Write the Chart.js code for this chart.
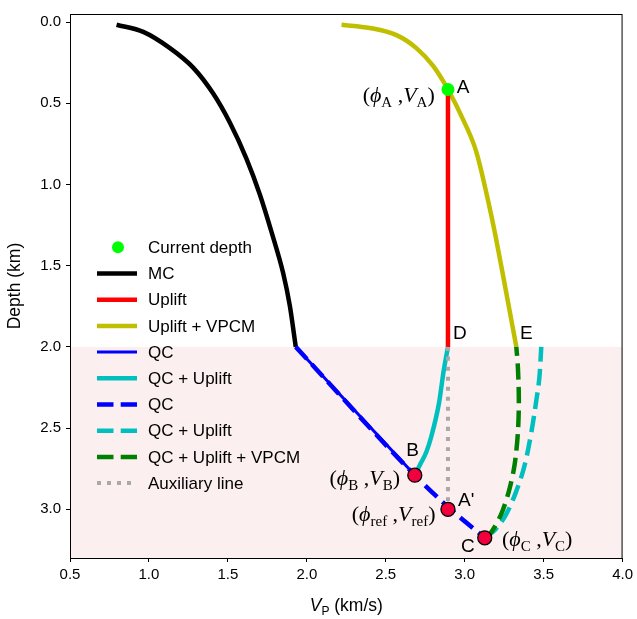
<!DOCTYPE html>
<html>
<head>
<meta charset="utf-8">
<script src="https://cdn.jsdelivr.net/npm/chart.js@4"></script>
<style>
  body { margin: 0; background: #fff; }
  canvas { display: block; }
</style>
</head>
<body>
<canvas id="vpChart" width="637" height="619"></canvas>
<script>
// axis ticks
const xTicks = [0.5, 1.0, 1.5, 2.0, 2.5, 3.0, 3.5, 4.0];
const depthTicks = [0.0, 0.5, 1.0, 1.5, 2.0, 2.5, 3.0];

// curves: velocity (km/s) vs depth (km)
const mcV     = [0.795, 0.964, 1.133, 1.28, 1.407, 1.513, 1.618, 1.703, 1.78, 1.85, 1.892, 1.93];
const mcDepth = [0.016, 0.06, 0.16, 0.28, 0.44, 0.62, 0.842, 1.063, 1.304, 1.545, 1.745, 2.0];

const upliftV     = [2.894, 2.894];
const upliftDepth = [0.415, 2.0];

const vpcmV     = [2.22, 2.399, 2.568, 2.694, 2.80, 2.894, 2.99, 3.074, 3.158, 3.20, 3.24, 3.327];
const vpcmDepth = [0.016, 0.036, 0.08, 0.16, 0.27, 0.415, 0.60, 0.80, 1.143, 1.34, 1.545, 2.0];

const qcV     = [1.93, 2.684];
const qcDepth = [2.0, 2.79];

const qcUpV     = [2.684, 2.72, 2.757, 2.789, 2.837, 2.867, 2.894];
const qcUpDepth = [2.79, 2.72, 2.647, 2.55, 2.347, 2.146, 2.0];

const qcDashV     = [1.93, 2.684, 2.894, 3.127];
const qcDashDepth = [2.0, 2.79, 2.985, 3.176];

const qcUpDashV     = [3.127, 3.19, 3.264, 3.327, 3.38, 3.422, 3.454, 3.475, 3.485];
const qcUpDashDepth = [3.176, 3.129, 3.028, 2.888, 2.727, 2.527, 2.327, 2.166, 2.0];

const qcVpcmV     = [3.127, 3.17, 3.232, 3.28, 3.316, 3.337, 3.343, 3.337, 3.327];
const qcVpcmDepth = [3.176, 3.139, 3.028, 2.888, 2.727, 2.527, 2.327, 2.126, 2.0];

const auxV     = [2.894, 2.894];
const auxDepth = [2.0, 3.0];

const currentV = [2.894];
const currentDepth = [0.415];

const keyV     = [2.684, 2.894, 3.127];   // B, A', C
const keyDepth = [2.79, 3.0, 3.176];

const shadeFrom = 2.0;

// annotations
const letterText  = ['A', 'D', 'E', 'B', "A'", 'C'];
const letterV     = [2.99, 2.97, 3.39, 2.67, 3.01, 3.02];
const letterDepth = [0.403, 1.92, 1.92, 2.64, 2.95, 3.23];

const mathSub   = ['A', 'B', 'ref', 'C'];
const mathV     = [2.582, 2.367, 2.55, 3.459];
const mathDepth = [0.451, 2.81, 3.03, 3.18];

const pts = (xs, ys) => xs.map((x, i) => ({ x: x, y: ys[i] }));

function lineSet(label, xs, ys, color, width, dash, order) {
  return {
    label: label,
    data: pts(xs, ys),
    showLine: true,
    borderColor: color,
    backgroundColor: color,
    borderWidth: width,
    borderDash: dash,
    borderCapStyle: 'butt',
    borderJoinStyle: 'round',
    pointRadius: 0,
    cubicInterpolationMode: 'monotone',
    order: order
  };
}

const datasets = [
  { label: 'Current depth', data: pts(currentV, currentDepth), pointRadius: 6.5,
    pointBackgroundColor: '#00ff00', pointBorderWidth: 0, backgroundColor: '#00ff00', order: 0 },
  lineSet('MC', mcV, mcDepth, '#000000', 4.5, [], 6),
  lineSet('Uplift', upliftV, upliftDepth, '#ff0000', 4.5, [], 5),
  lineSet('Uplift + VPCM', vpcmV, vpcmDepth, '#bfbf00', 4.5, [], 6),
  lineSet('QC', qcV, qcDepth, '#0000ff', 3, [], 4),
  lineSet('QC + Uplift', qcUpV, qcUpDepth, '#00bfbf', 4.5, [], 4),
  lineSet('QC', qcDashV, qcDashDepth, '#0000ff', 4.5, [16.5, 7.2], 3),
  lineSet('QC + Uplift', qcUpDashV, qcUpDashDepth, '#00bfbf', 4.5, [16.5, 7.2], 3),
  lineSet('QC + Uplift + VPCM', qcVpcmV, qcVpcmDepth, '#008000', 4.5, [16.5, 7.2], 2),
  lineSet('Auxiliary line', auxV, auxDepth, '#a9a9a9', 4, [4, 6], 3),
  { label: 'key points', noLegend: true, data: pts(keyV, keyDepth), pointRadius: 7,
    pointBackgroundColor: '#f0003c', pointBorderColor: '#000', pointBorderWidth: 1.3, order: 0 }
];
// green branch is not monotone in x, use plain bezier smoothing
datasets[8].cubicInterpolationMode = 'default';
datasets[8].tension = 0.3;

function drawMath(ctx, sub, cx, cy) {
  const big = '22px "Liberation Serif"';
  const bigIt = 'italic 22px "Liberation Serif"';
  const small = '15px "Liberation Serif"';
  const parts = [
    { t: '(', f: big, dy: 0 },
    { t: '\u03d5', f: bigIt, dy: 0 },
    { t: sub, f: small, dy: 5 },
    { t: ' ,', f: big, dy: 0 },
    { t: 'V', f: bigIt, dy: 0 },
    { t: sub, f: small, dy: 5 },
    { t: ')', f: big, dy: 0 }
  ];
  let w = 0;
  parts.forEach(p => { ctx.font = p.f; p.w = ctx.measureText(p.t).width; w += p.w; });
  let x = cx - w / 2;
  ctx.textAlign = 'left';
  ctx.textBaseline = 'alphabetic';
  parts.forEach(p => {
    ctx.font = p.f;
    ctx.fillText(p.t, x, cy + 7 + p.dy);
    x += p.w;
  });
}

const decor = {
  id: 'decor',
  beforeDatasetsDraw(chart) {
    const { ctx, chartArea: a, scales: { y } } = chart;
    const y2 = y.getPixelForValue(shadeFrom);
    ctx.save();
    ctx.fillStyle = '#fcefef';
    ctx.fillRect(a.left, y2, a.right - a.left, a.bottom - y2);
    ctx.restore();
  },
  afterDatasetsDraw(chart) {
    const { ctx, chartArea: a, scales: { x, y } } = chart;
    ctx.save();
    ctx.fillStyle = '#000';

    // point letters
    ctx.font = '19px "Liberation Sans"';
    ctx.textAlign = 'center';
    ctx.textBaseline = 'middle';
    letterText.forEach((t, i) => {
      ctx.fillText(t, x.getPixelForValue(letterV[i]), y.getPixelForValue(letterDepth[i]));
    });

    // (phi, V) labels
    mathSub.forEach((s, i) => {
      drawMath(ctx, s, x.getPixelForValue(mathV[i]), y.getPixelForValue(mathDepth[i]));
    });

    // frame
    ctx.strokeStyle = '#000';
    ctx.lineWidth = 1;
    ctx.strokeRect(a.left + 0.5, a.top + 0.5, a.right - a.left - 1, a.bottom - a.top);

    // legend
    let row = 0;
    ctx.font = '17px "Liberation Sans"';
    ctx.textAlign = 'left';
    ctx.textBaseline = 'middle';
    chart.data.datasets.forEach(ds => {
      if (ds.noLegend) return;
      const ly = 247.3 + row * 26.2;
      if (ds.showLine) {
        ctx.beginPath();
        ctx.setLineDash(ds.borderDash);
        ctx.lineWidth = ds.borderWidth;
        ctx.strokeStyle = ds.borderColor;
        ctx.lineCap = 'butt';
        ctx.moveTo(97, ly);
        ctx.lineTo(137, ly);
        ctx.stroke();
        ctx.setLineDash([]);
      } else {
        ctx.beginPath();
        ctx.fillStyle = ds.pointBackgroundColor;
        ctx.arc(118, ly, 6, 0, Math.PI * 2);
        ctx.fill();
      }
      ctx.fillStyle = '#000';
      ctx.fillText(ds.label, 148, ly + 1);
      row++;
    });

    // x axis title: V_P (km/s)
    const parts = [
      { t: 'V', f: 'italic 17.5px "Liberation Sans"', dy: 0 },
      { t: 'P', f: '12px "Liberation Sans"', dy: 4 },
      { t: ' (km/s)', f: '17.5px "Liberation Sans"', dy: 0 }
    ];
    let w = 0;
    parts.forEach(p => { ctx.font = p.f; p.w = ctx.measureText(p.t).width; w += p.w; });
    let tx = (a.left + a.right) / 2 - w / 2;
    ctx.textBaseline = 'alphabetic';
    parts.forEach(p => {
      ctx.font = p.f;
      ctx.fillText(p.t, tx, 611 + p.dy);
      tx += p.w;
    });
    ctx.restore();
  }
};

const tickFont = { family: 'Liberation Sans', size: 15 };

new Chart(document.getElementById('vpChart').getContext('2d'), {
  type: 'scatter',
  data: { datasets: datasets },
  options: {
    responsive: false,
    animation: false,
    events: [],
    layout: { padding: { left: 0, right: 13, top: 2, bottom: 0 } },
    plugins: { legend: { display: false }, tooltip: { enabled: false } },
    scales: {
      x: {
        type: 'linear',
        min: 0.5,
        max: 4.0,
        afterBuildTicks: s => { s.ticks = xTicks.map(v => ({ value: v })); },
        afterFit: s => { s.height = 61; },
        grid: { drawOnChartArea: false, drawTicks: true, tickLength: 4, tickColor: '#000' },
        border: { color: '#000', width: 1 },
        ticks: { color: '#000', font: tickFont, padding: 4, maxRotation: 0, callback: v => v.toFixed(1) }
      },
      y: {
        type: 'linear',
        reverse: true,
        min: -0.05,
        max: 3.3,
        afterBuildTicks: s => { s.ticks = depthTicks.map(v => ({ value: v })); },
        afterFit: s => { s.width = 70; },
        grid: { drawOnChartArea: false, drawTicks: true, tickLength: 4, tickColor: '#000' },
        border: { color: '#000', width: 1 },
        ticks: { color: '#000', font: tickFont, padding: 5, callback: v => v.toFixed(1) },
        title: { display: true, text: 'Depth (km)', color: '#000',
                 font: { family: 'Liberation Sans', size: 17.5 }, padding: { top: 5, bottom: 0 } }
      }
    }
  },
  plugins: [decor]
});
</script>
</body>
</html>
